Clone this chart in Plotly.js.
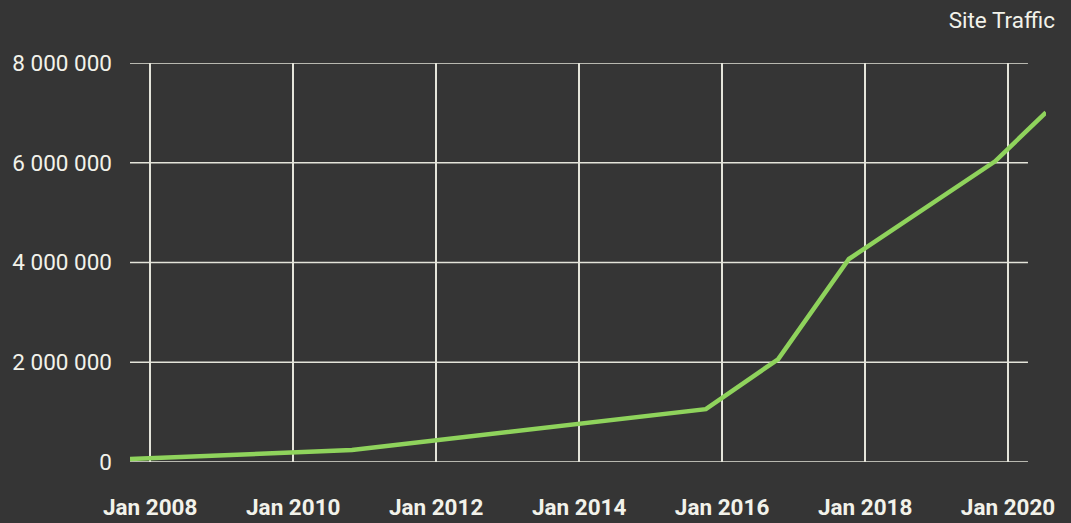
<!DOCTYPE html>
<html>
<head>
<meta charset="utf-8">
<script src="https://cdn.plot.ly/plotly-3.0.1.min.js"></script>
<style>html,body{margin:0;padding:0;background:#353535;}#chart{width:1071px;height:523px;}</style>
</head>
<body>
<div id="chart"></div>
<script>
const dates = ['2007-09-20', '2010-10-28', '2015-10-10', '2016-10-13', '2017-10-10', '2019-10-27', '2020-07-13'];
const traffic = [60000, 240000, 1060000, 2060000, 4070000, 6030000, 7010000];
const yTicks = [0, 2000000, 4000000, 6000000, 8000000];
const chartTitle = 'Site Traffic';

const textColor = '#f2f2ea';
const gridColor = '#e4e4da';

const gridShapes = yTicks.map(v => ({
  type: 'line', xref: 'paper', yref: 'y', x0: 0, x1: 0.9803, y0: v, y1: v,
  line: {color: gridColor, width: 1.5}, layer: 'below'
}));

Plotly.newPlot('chart', [{
  x: dates, y: traffic, type: 'scatter', mode: 'lines',
  line: {color: '#8fd35c', width: 4.5},
  hoverinfo: 'none'
}], {
  width: 1071, height: 523,
  paper_bgcolor: '#353535', plot_bgcolor: '#353535',
  separators: '. ',
  font: {family: 'Roboto, sans-serif', size: 22.5, color: textColor},
  margin: {l: 130, r: 25, t: 63, b: 61},
  showlegend: false,
  title: {text: chartTitle, xref: 'container', yref: 'container', x: 0.985, xanchor: 'right', y: 0.962, yanchor: 'middle',
          font: {family: 'Roboto, sans-serif', size: 22.5, color: textColor}},
  xaxis: {
    type: 'date', range: [dates[0], dates[dates.length - 1]],
    tick0: '2008-01-01', dtick: 'M24', tickformat: '%b %Y',
    showgrid: true, gridcolor: gridColor, gridwidth: 1.5,
    zeroline: false, showline: false, ticks: '',
    ticklabelstandoff: 29,
    tickfont: {family: 'Roboto, sans-serif', size: 22.5, color: textColor, weight: 'bold'}
  },
  yaxis: {
    range: [0, 8000000], tickvals: yTicks, tickformat: ',d',
    showgrid: false, zeroline: false, showline: false, ticks: '',
    ticklabelstandoff: 17,
    tickfont: {family: 'Roboto, sans-serif', size: 22.5, color: textColor}
  },
  shapes: gridShapes
}, {displayModeBar: false, staticPlot: true});
</script>
</body>
</html>
